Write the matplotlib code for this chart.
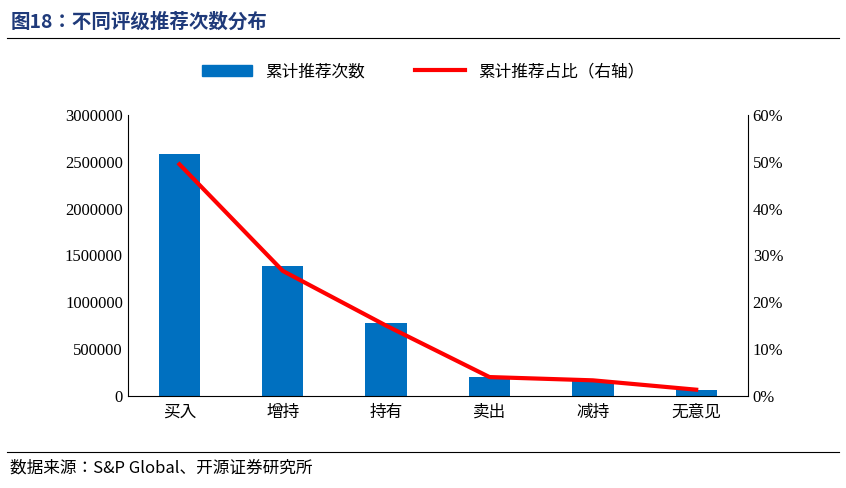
import matplotlib
matplotlib.use("Agg")
import matplotlib.pyplot as plt
from matplotlib.ticker import FuncFormatter
from matplotlib.lines import Line2D

CJK = ['Noto Sans CJK JP', 'Noto Sans CJK SC', 'Noto Sans CJK TC', 'Noto Sans CJK KR', 'DejaVu Sans']
plt.rcParams['font.family'] = CJK

categories = ["买入", "增持", "持有", "卖出", "减持", "无意见"]
counts = [2580000, 1390000, 780000, 205000, 160000, 65000]
share = [49.5, 26.7, 15.0, 4.0, 3.3, 1.3]

fig = plt.figure(figsize=(8.46, 4.88), dpi=100)
ax = fig.add_axes([0.151, 0.189, 0.733, 0.575])
x = range(len(categories))
ax.bar(x, counts, width=0.4, color="#0070C0")
ax.set_ylim(0, 3000000)
ax.set_yticks(range(0, 3000001, 500000))
ax.yaxis.set_major_formatter(FuncFormatter(lambda v, p: f"{int(v)}"))
ax.set_xlim(-0.5, len(categories) - 0.5)
ax.set_xticks(list(x))
ax.set_xticklabels(categories, fontsize=12, family=CJK)
ax.tick_params(axis='y', length=0)
ax.tick_params(axis='x', length=0, pad=6)
for lab in ax.get_yticklabels():
    lab.set_fontfamily('Liberation Serif'); lab.set_fontsize(12)
for s in ["top", "right"]:
    ax.spines[s].set_visible(False)

ax2 = ax.twinx()
ax2.plot(list(x), share, color="#FF0000", linewidth=3)
ax2.set_ylim(0, 60)
ax2.set_yticks(range(0, 61, 10))
ax2.yaxis.set_major_formatter(FuncFormatter(lambda v, p: f"{int(v)}%"))
ax2.tick_params(axis='y', length=0)
for lab in ax2.get_yticklabels():
    lab.set_fontfamily('Liberation Serif'); lab.set_fontsize(12)
for s in ["top", "left", "bottom"]:
    ax2.spines[s].set_visible(False)

handles = [plt.Rectangle((0, 0), 1, 1, color="#0070C0"),
           Line2D([0], [0], color="#FF0000", linewidth=3)]
fig.legend(handles, ["累计推荐次数", "累计推荐占比（右轴）"], loc="center",
           bbox_to_anchor=(0.5, 0.853), ncol=2, frameon=False,
           prop={'family': CJK, 'size': 12}, handlelength=3, columnspacing=3)

fig.text(0.012, 0.955, "图18：不同评级推荐次数分布", fontsize=14, fontweight="bold",
         color="#1F3A7A", va="center", family=CJK)
fig.add_artist(Line2D([0.008, 0.992], [0.922, 0.922], color="black", linewidth=0.8))
fig.add_artist(Line2D([0.008, 0.992], [0.074, 0.074], color="black", linewidth=0.8))
fig.text(0.012, 0.04, "数据来源：S&P Global、开源证券研究所", fontsize=12, va="center", family=CJK)

fig.savefig("out.png", dpi=100)
